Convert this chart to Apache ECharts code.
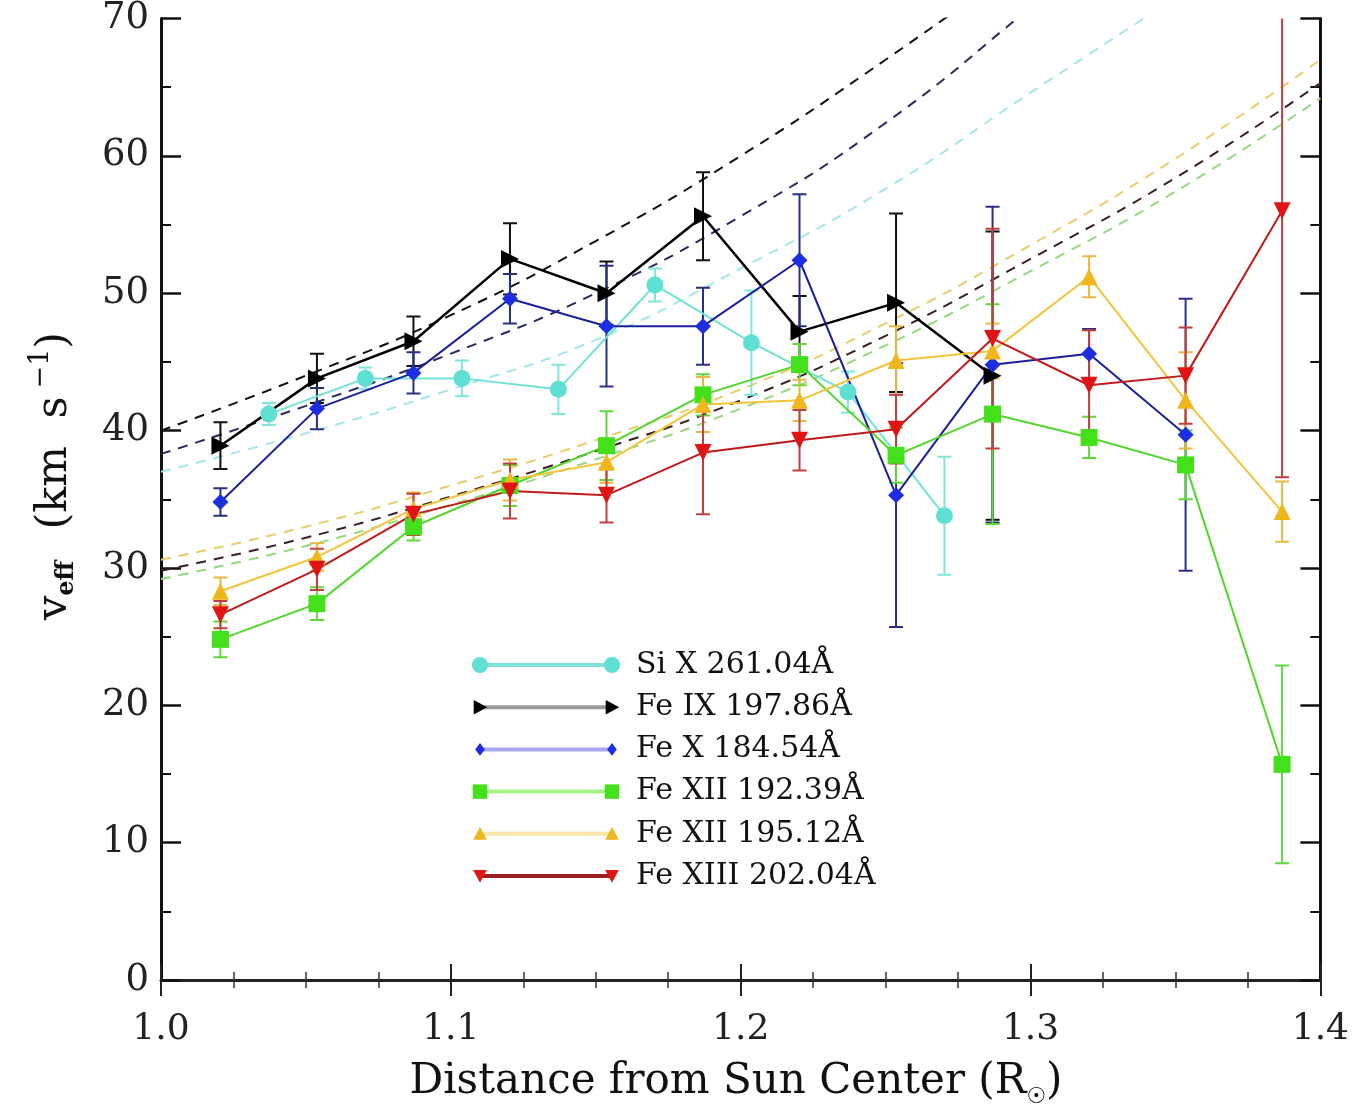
<!DOCTYPE html>
<html><head><meta charset="utf-8">
<script src="https://cdn.jsdelivr.net/npm/echarts@6/dist/echarts.min.js"></script>
<style>html,body{margin:0;padding:0;background:#fff}#c{width:1352px;height:1117px}</style>
</head><body><div id="c"></div>
<script>
// ---- data ----
const xMain = [1.0205, 1.0538, 1.0871, 1.1204, 1.1537, 1.1870, 1.2203, 1.2536, 1.2869, 1.3202, 1.3535, 1.3868];
const xSiX  = [1.0372, 1.0705, 1.1038, 1.1371, 1.1704, 1.2037, 1.2370, 1.2703];

const siX      = [41.2, 43.8, 43.8, 43.0, 50.6, 46.4, 42.8, 33.8];
const siXErr   = [0.8, 0.8, 1.3, 1.8, 1.2, 3.8, 1.5, 4.3];
const feIX     = [38.9, 43.8, 46.5, 52.5, 50.0, 55.6, 47.2, 49.3, 44.0];
const feIXErr  = [1.7, 1.8, 1.8, 2.6, 2.3, 3.2, 2.6, 6.5, 10.5];
const feX      = [34.8, 41.6, 44.2, 49.6, 47.6, 47.6, 52.4, 35.3, 44.8, 45.6, 39.7];
const feXErr   = [1.0, 1.5, 1.5, 1.8, 4.4, 2.8, 4.8, 9.6, 11.5, 1.8, 9.9];
const feXII192 = [24.8, 27.4, 33.0, 36.0, 38.9, 42.6, 44.8, 38.2, 41.2, 39.5, 37.5, 15.7];
const feXII192Err = [1.3, 1.2, 1.0, 1.5, 2.5, 1.5, 1.5, 2.0, 8.0, 1.5, 2.5, 7.2];
const feXII195 = [28.3, 30.8, 34.3, 36.4, 37.7, 41.9, 42.2, 45.1, 45.8, 51.2, 42.2, 34.1];
const feXII195Err = [1.0, 1.0, 1.2, 1.5, 1.5, 2.0, 1.5, 2.5, 2.0, 1.5, 3.5, 2.2];
const feXIII   = [26.6, 29.9, 33.9, 35.6, 35.3, 38.4, 39.3, 40.1, 46.7, 43.3, 44.0, 56.0];
const feXIIIErr = [1.0, 1.5, 1.5, 2.0, 2.0, 4.5, 2.2, 2.5, 8.0, 4.0, 3.5, 19.4];

// dashed fit curves
const xFit = [1.0, 1.05, 1.1, 1.15, 1.2, 1.25, 1.3, 1.35, 1.4];
const fitFeIX     = [40.0, 44.0, 48.4, 53.8, 60.0, 67.0, 74.5];
const fitFeX      = [38.3, 41.8, 45.6, 50.0, 55.6, 62.4, 70.8, 79.5];
const fitSiX      = [37.0, 39.8, 43.0, 46.6, 51.8, 57.6, 64.6, 71.5];
const fitFeXII195 = [30.6, 33.0, 36.0, 39.3, 43.0, 47.8, 53.5, 59.8, 67.0];
const fitFeXIII   = [29.8, 32.2, 35.2, 38.5, 42.2, 46.9, 52.5, 58.4, 65.3];
const fitFeXII192 = [29.2, 31.6, 34.6, 37.9, 41.6, 46.2, 51.6, 57.4, 64.2];

const xTickLabels = ['1.0', '1.1', '1.2', '1.3', '1.4'];
const names = ['Si X 261.04Å', 'Fe IX 197.86Å', 'Fe X 184.54Å', 'Fe XII 192.39Å', 'Fe XII 195.12Å', 'Fe XIII 202.04Å'];

// ---- styling ----
const SERIF = 'DejaVu Serif';
const pair = (xs, ys) => ys.map((v, i) => [xs[i], v]);
const errData = (xs, ys, es) => ys.map((v, i) => [xs[i], v - es[i], v + es[i]]);

function errRender(color, w) {
  return function (params, api) {
    const x = api.value(0), lo = api.value(1), hi = api.value(2);
    const a = api.coord([x, hi]), b = api.coord([x, lo]);
    const cw = 7;
    const st = { stroke: color, lineWidth: w };
    return { type: 'group', children: [
      { type: 'line', shape: { x1: a[0], y1: a[1], x2: b[0], y2: b[1] }, style: st },
      { type: 'line', shape: { x1: a[0] - cw, y1: a[1], x2: a[0] + cw, y2: a[1] }, style: st },
      { type: 'line', shape: { x1: b[0] - cw, y1: b[1], x2: b[0] + cw, y2: b[1] }, style: st }
    ]};
  };
}

const defs = [
  { name: names[0], xs: xSiX, ys: siX, es: siXErr, color: '#5fe0d2', line: '#6fe3d6', err: '#7fe6da', sym: 'circle', size: 17, rot: 0, lw: 2 },
  { name: names[1], xs: xMain, ys: feIX, es: feIXErr, color: '#000000', line: '#000000', err: '#111111', sym: 'triangle', size: 18, rot: -90, lw: 2.5 },
  { name: names[2], xs: xMain, ys: feX, es: feXErr, color: '#1c2ee0', line: '#1a1f9a', err: '#2a2f80', sym: 'diamond', size: 16, rot: 0, lw: 2 },
  { name: names[3], xs: xMain, ys: feXII192, es: feXII192Err, color: '#45e01c', line: '#52d62c', err: '#5fd83a', sym: 'rect', size: 17, rot: 0, lw: 2 },
  { name: names[4], xs: xMain, ys: feXII195, es: feXII195Err, color: '#f0b61e', line: '#f2c43c', err: '#e8b840', sym: 'triangle', size: 17, rot: 0, lw: 2 },
  { name: names[5], xs: xMain, ys: feXIII, es: feXIIIErr, color: '#e01414', line: '#c01a1a', err: '#c04040', sym: 'triangle', size: 17, rot: 180, lw: 2 }
];

const fits = [
  { ys: fitSiX, color: '#a6e6e8' },
  { ys: fitFeX, color: '#2a2a60' },
  { ys: fitFeIX, color: '#111111' },
  { ys: fitFeXII192, color: '#94d880' },
  { ys: fitFeXII195, color: '#e8cc6a' },
  { ys: fitFeXIII, color: '#3a2020' }
];

const series = [];
fits.forEach(f => series.push({
  type: 'line', data: pair(xFit, f.ys), symbol: 'none', smooth: true, clip: true, silent: true, z: 1,
  lineStyle: { color: f.color, width: 2, type: [10, 8] }
}));
defs.forEach(d => {
  series.push({
    type: 'custom', name: d.name + '_err', data: errData(d.xs, d.ys, d.es), clip: true, z: 3,
    renderItem: errRender(d.err, 2), encode: { x: 0, y: [1, 2] }, silent: true
  });
  series.push({
    type: 'line', name: d.name, data: pair(d.xs, d.ys), symbol: d.sym, symbolSize: d.size, symbolRotate: d.rot,
    showAllSymbol: true, clip: true, z: 4,
    itemStyle: { color: d.color }, lineStyle: { color: d.line, width: d.lw }
  });
});

// legend drawn as graphic (line with marker at both ends)
const legendTop = 665, legendStep = 42.2, lx1 = 480, lx2 = 612;
const legendLine = ['#7fe3d8', '#9a9a9a', '#a8a8f0', '#a6f088', '#f8e7a8', '#9a2020'];
function markerShape(d, cx, cy) {
  const s = d.size / 2;
  const st = { fill: d.color };
  if (d.sym === 'circle') return { type: 'circle', shape: { cx, cy, r: s * 0.95 }, style: st };
  if (d.sym === 'rect') return { type: 'rect', shape: { x: cx - s * 0.85, y: cy - s * 0.85, width: s * 1.7, height: s * 1.7 }, style: st };
  if (d.sym === 'diamond') return { type: 'polygon', shape: { points: [[cx, cy - s * 0.8], [cx + s * 0.6, cy], [cx, cy + s * 0.8], [cx - s * 0.6, cy]] }, style: st };
  if (d.rot === -90) return { type: 'polygon', shape: { points: [[cx - s * 0.7, cy - s * 0.8], [cx + s * 0.8, cy], [cx - s * 0.7, cy + s * 0.8]] }, style: st };
  if (d.rot === 180) return { type: 'polygon', shape: { points: [[cx - s * 0.8, cy - s * 0.7], [cx + s * 0.8, cy - s * 0.7], [cx, cy + s * 0.8]] }, style: st };
  return { type: 'polygon', shape: { points: [[cx - s * 0.8, cy + s * 0.7], [cx + s * 0.8, cy + s * 0.7], [cx, cy - s * 0.8]] }, style: st };
}
const graphics = [];
defs.forEach((d, i) => {
  const y = legendTop + i * legendStep;
  graphics.push({ type: 'line', shape: { x1: lx1, y1: y, x2: lx2, y2: y }, style: { stroke: legendLine[i], lineWidth: 4 }, z: 10 });
  graphics.push(Object.assign(markerShape(d, lx1, y), { z: 11 }));
  graphics.push(Object.assign(markerShape(d, lx2, y), { z: 11 }));
  graphics.push({ type: 'text', x: 636, y: y, z: 11, style: { text: d.name, fontFamily: SERIF, fontSize: 30, fill: '#111', align: 'left', verticalAlign: 'middle' } });
});
// axis titles
graphics.push({
  type: 'text', x: 55, y: 476, rotation: Math.PI / 2, z: 11,
  style: {
    text: '{m|v}{sub|eff}{m|  (km  s}{sup|−1}{m|)}', align: 'center', verticalAlign: 'middle',
    rich: {
      m: { fontFamily: SERIF, fontSize: 43, fill: '#111', lineHeight: 60, verticalAlign: 'middle' },
      sub: { fontFamily: SERIF, fontSize: 24, fontWeight: 'bold', fill: '#111', lineHeight: 60, verticalAlign: 'bottom', padding: [0, 4, 6, 0] },
      sup: { fontFamily: SERIF, fontSize: 27, fill: '#111', lineHeight: 60, verticalAlign: 'top', padding: [2, 0, 0, 8] }
    }
  }
});
graphics.push({
  type: 'text', x: 736, y: 1082, z: 11,
  style: {
    text: '{m|Distance from Sun Center (R}{sub|☉}{m|)}', align: 'center', verticalAlign: 'middle',
    rich: {
      m: { fontFamily: SERIF, fontSize: 42, fill: '#111', lineHeight: 60, verticalAlign: 'middle' },
      sub: { fontFamily: 'DejaVu Sans', fontSize: 22, fill: '#111', lineHeight: 60, verticalAlign: 'bottom', padding: [0, 0, 4, 0] }
    }
  }
});

const axisCommonX = {
  type: 'value', min: 1.0, max: 1.4, interval: 0.1,
  splitLine: { show: false },
  axisTick: { inside: true, length: 16, lineStyle: { color: '#222', width: 2 } },
  minorTick: { show: true, splitNumber: 4, length: 8, lineStyle: { color: '#333', width: 1.5 } },
  minorSplitLine: { show: false }
};
const axisCommonY = {
  type: 'value', min: 0, max: 70, interval: 10,
  splitLine: { show: false },
  axisTick: { inside: true, length: 20, lineStyle: { color: '#111', width: 2.5 } },
  minorTick: { show: true, splitNumber: 2, length: 10, lineStyle: { color: '#111', width: 2 } },
  minorSplitLine: { show: false }
};

const option = {
  animation: false,
  backgroundColor: '#fff',
  grid: { left: 161, right: 31, top: 14, bottom: 137, containLabel: false },
  xAxis: [
    Object.assign({}, axisCommonX, {
      position: 'bottom',
      axisLine: { lineStyle: { color: '#555', width: 2 } },
      axisLabel: { fontFamily: SERIF, fontSize: 36, color: '#222', margin: 32,
        formatter: v => xTickLabels[Math.round((v - 1.0) * 10)] }
    }),
    Object.assign({}, axisCommonX, {
      position: 'top',
      axisLine: { lineStyle: { color: '#222', width: 3 } },
      axisLabel: { show: false }
    })
  ],
  yAxis: [
    Object.assign({}, axisCommonY, {
      position: 'left',
      axisLine: { lineStyle: { color: '#111', width: 3 } },
      axisLabel: { fontFamily: SERIF, fontSize: 37, color: '#222', margin: 12 }
    }),
    Object.assign({}, axisCommonY, {
      position: 'right',
      axisLine: { lineStyle: { color: '#111', width: 3 } },
      axisLabel: { show: false }
    })
  ],
  series: series,
  graphic: graphics
};

const chart = echarts.init(document.getElementById('c'), null, { renderer: 'canvas' });
chart.setOption(option);
</script>
</body></html>
